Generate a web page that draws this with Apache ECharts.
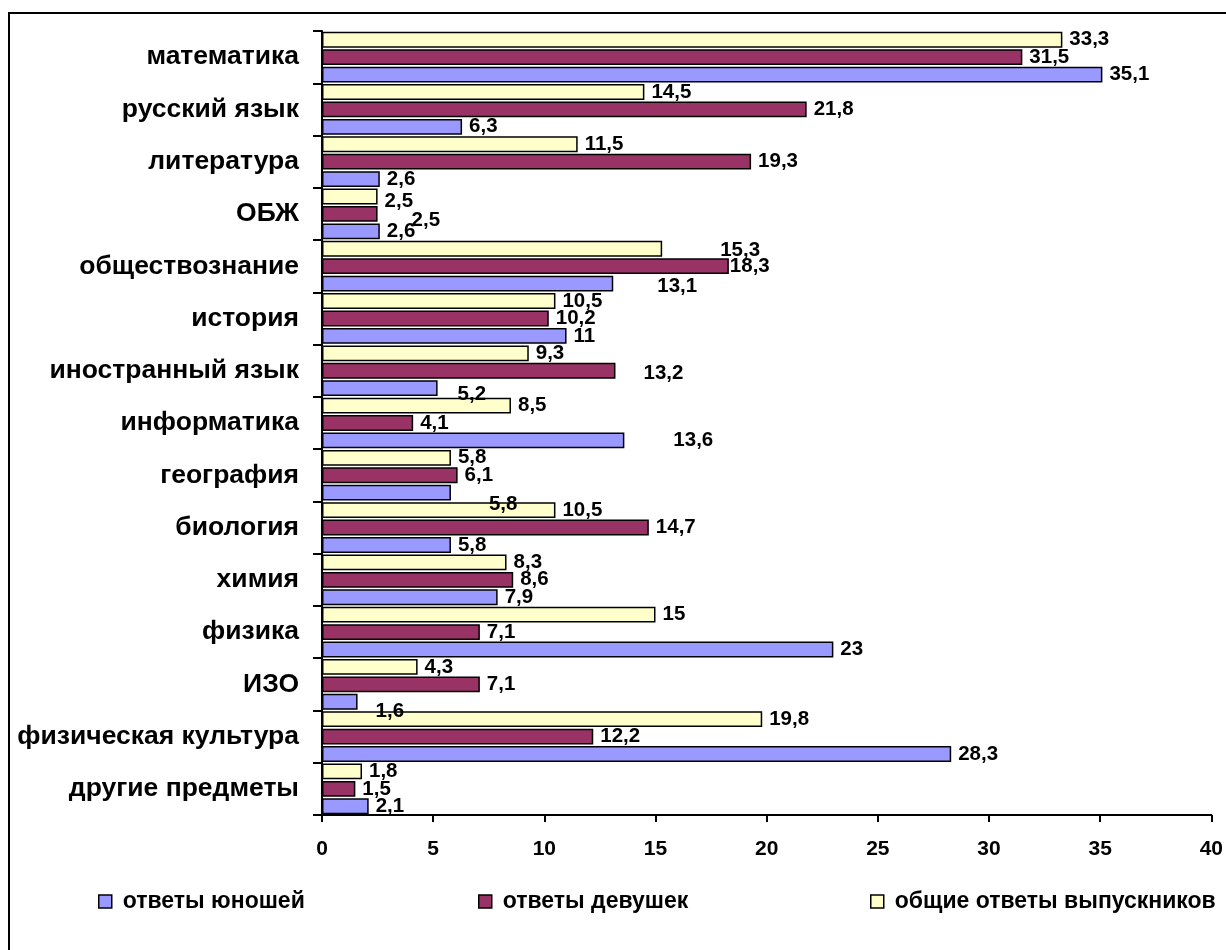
<!DOCTYPE html>
<html>
<head>
<meta charset="utf-8">
<script src="https://cdn.jsdelivr.net/npm/echarts@6/dist/echarts.min.js"></script>
<style>
html,body{margin:0;padding:0;background:#fff;}
#chart{width:1226px;height:950px;}
</style>
</head>
<body>
<div id="chart"></div>
<script>
// Categories, top to bottom
const categories = ['математика','русский язык','литература','ОБЖ','обществознание','история','иностранный язык','информатика','география','биология','химия','физика','ИЗО','физическая культура','другие предметы'];
// Series values (percent)
const boys  = [35.1, 6.3, 2.6, 2.6, 13.1, 11, 5.2, 13.6, 5.8, 5.8, 7.9, 23, 1.6, 28.3, 2.1];
const girls = [31.5, 21.8, 19.3, 2.5, 18.3, 10.2, 13.2, 4.1, 6.1, 14.7, 8.6, 7.1, 7.1, 12.2, 1.5];
const total = [33.3, 14.5, 11.5, 2.5, 15.3, 10.5, 9.3, 8.5, 5.8, 10.5, 8.3, 15, 4.3, 19.8, 1.8];
const seriesNames = ['ответы юношей','ответы девушек','общие ответы выпускников'];
const xTicks = [0, 5, 10, 15, 20, 25, 30, 35, 40];

// label nudges (style only) to mimic the original label placement
const labelNudge = {
  'общие ответы выпускников|ОБЖ': [0, 5],
  'ответы девушек|ОБЖ': [27, 6],
  'общие ответы выпускников|обществознание': [51, 2],
  'ответы девушек|обществознание': [-6, 0],
  'ответы юношей|обществознание': [37, 3],
  'ответы девушек|иностранный язык': [21, 3],
  'ответы юношей|иностранный язык': [13, 6],
  'ответы юношей|информатика': [42, 0],
  'ответы юношей|география': [31, 12],
  'ответы юношей|ИЗО': [11, 10]
};

const FONT = '"Liberation Sans", Arial, sans-serif';
const fmt = v => String(v).replace('.', ',');

function makeData(name, values) {
  return values.map((v, i) => {
    const n = labelNudge[name + '|' + categories[i]];
    const item = { value: v };
    if (n) item.label = { offset: n };
    return item;
  });
}

function makeSeries(name, values, color) {
  return {
    name: name,
    type: 'bar',
    data: makeData(name, values),
    barCategoryGap: '3%',
    barGap: '10%',
    itemStyle: { color: color, borderColor: '#000', borderWidth: 1.5 },
    label: {
      show: true,
      position: 'right',
      distance: 7,
      color: '#000',
      fontFamily: FONT,
      fontWeight: 'bold',
      fontSize: 20.5,
      formatter: p => fmt(p.value)
    },
    emphasis: { disabled: true },
    animation: false
  };
}

const chart = echarts.init(document.getElementById('chart'), null, { renderer: 'canvas' });

const legendBase = {
  orient: 'horizontal',
  top: 890,
  padding: 0,
  itemWidth: 13,
  itemHeight: 13,
  icon: 'rect',
  selectedMode: false,
  itemStyle: { borderColor: '#000', borderWidth: 1.5 },
  textStyle: { color: '#000', fontFamily: FONT, fontWeight: 'bold', fontSize: 23, padding: [0, 0, 0, 6] }
};

chart.setOption({
  animation: false,
  backgroundColor: '#fff',
  grid: { left: 322, right: 14, top: 31, bottom: 135, containLabel: false },
  graphic: [{
    type: 'rect',
    shape: { x: 9, y: 13, width: 1300, height: 1000 },
    style: { fill: 'none', stroke: '#000', lineWidth: 2 },
    silent: true,
    z: -1
  }],
  legend: [
    Object.assign({}, legendBase, { left: 98, data: [seriesNames[0]] }),
    Object.assign({}, legendBase, { left: 478, data: [seriesNames[1]] }),
    Object.assign({}, legendBase, { left: 870, data: [seriesNames[2]] })
  ],
  xAxis: {
    type: 'value',
    min: xTicks[0],
    max: xTicks[xTicks.length - 1],
    interval: xTicks[1] - xTicks[0],
    axisLine: { show: true, lineStyle: { color: '#000', width: 2 } },
    axisTick: { show: true, length: 7, lineStyle: { color: '#000', width: 2 } },
    splitLine: { show: false },
    axisLabel: { color: '#000', fontFamily: FONT, fontWeight: 'bold', fontSize: 21, margin: 24 }
  },
  yAxis: {
    type: 'category',
    inverse: true,
    data: categories,
    axisLine: { show: true, lineStyle: { color: '#000', width: 2 } },
    axisTick: { show: true, length: 9, lineStyle: { color: '#000', width: 2 } },
    axisLabel: { color: '#000', fontFamily: FONT, fontWeight: 'bold', fontSize: 26.5, margin: 23 }
  },
  series: [
    makeSeries(seriesNames[2], total, '#FFFFCC'),
    makeSeries(seriesNames[1], girls, '#993366'),
    makeSeries(seriesNames[0], boys, '#9999FF')
  ]
});
</script>
</body>
</html>
